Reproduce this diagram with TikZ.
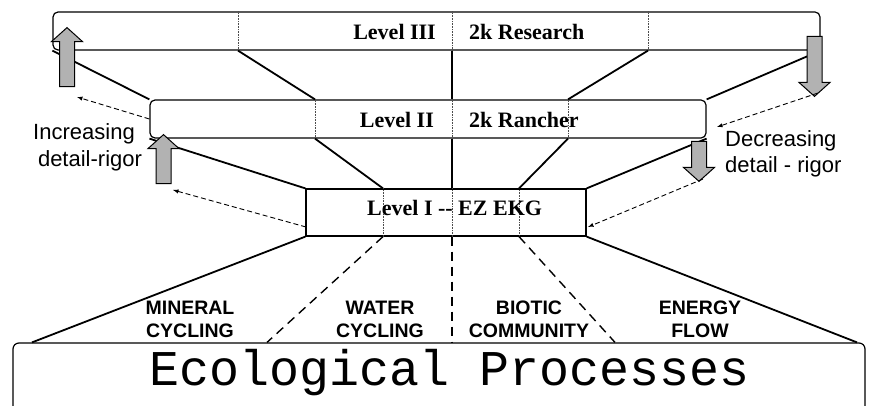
\documentclass[tikz,border=0pt]{standalone}
\usepackage{fontspec}
\setmainfont{Liberation Serif}
\setsansfont{Liberation Sans}
\setmonofont{Liberation Mono}
\usetikzlibrary{shapes.arrows}

\begin{document}
\begin{tikzpicture}[x=1pt,y=-1pt,
    nivel/.style={draw, line width=1.2pt, fill=white, inner sep=0pt},
    divisor/.style={draw=gray!60!black, densely dotted, line width=0.6pt},
    enlace/.style={line width=1.8pt},
    enlacedash/.style={line width=1.4pt, dash pattern=on 9pt off 6pt},
    flechon/.style={single arrow, draw, line width=1pt, fill=gray!60, minimum width=30pt,
        single arrow head extend=8pt, single arrow tip angle=96, inner xsep=0pt, inner ysep=7pt},
    retro/.style={dash pattern=on 5pt off 3pt, line width=0.9pt, -latex},
    titulo/.style={font=\bfseries\fontsize{22}{22}\selectfont, inner sep=0pt},
    proceso/.style={font=\sffamily\bfseries\fontsize{19.5}{23}\selectfont, align=center, inner sep=0pt},
    nota/.style={font=\sffamily\fontsize{22}{27}\selectfont, inner sep=0pt}]

    % Marco
    \useasboundingbox (0,0) rectangle (872,406);

    % Posiciones de las divisiones
    \coordinate (dA) at (238,0);  \coordinate (dB) at (648,0);   % nivel III
    \coordinate (dC) at (315,0);  \coordinate (dD) at (568,0);   % nivel II
    \coordinate (dE) at (383,0);  \coordinate (dF) at (519,0);   % nivel I
    \coordinate (dM) at (452,0);                                 % eje central
    \coordinate (bA) at (32,0);   \coordinate (bB) at (267,0);   % base
    \coordinate (bC) at (615,0);  \coordinate (bD) at (857,0);

    % Niveles
    \node[nivel, rounded corners=5pt, minimum width=767pt, minimum height=38pt] (lvlIII) at (436.5,31) {};
    \node[nivel, rounded corners=5pt, minimum width=556pt, minimum height=38pt] (lvlII) at (428,119) {};
    \node[nivel, minimum width=280pt, minimum height=47pt] (lvlI) at (446,212.5) {};
    \node[nivel, rounded corners=6pt, minimum width=852pt, minimum height=120pt] (procesos) at (439,403) {};

    % Divisiones punteadas
    \foreach \n/\d in {lvlIII/dA, lvlIII/dM, lvlIII/dB, lvlII/dC, lvlII/dM, lvlII/dD, lvlI/dE, lvlI/dM, lvlI/dF}
        \draw[divisor] (\d |- \n.north) -- (\d |- \n.south);

    % Nivel III a nivel II
    \draw[enlace] (lvlIII.south west) -- (lvlII.north west);
    \draw[enlace] (dA |- lvlIII.south) -- (dC |- lvlII.north);
    \draw[enlace] (dM |- lvlIII.south) -- (dM |- lvlII.north);
    \draw[enlace] (dB |- lvlIII.south) -- (dD |- lvlII.north);
    \draw[enlace] (lvlIII.south east) -- (lvlII.north east);

    % Nivel II a nivel I
    \draw[enlace] (lvlII.south west) -- (lvlI.north west);
    \draw[enlace] (dC |- lvlII.south) -- (dE |- lvlI.north);
    \draw[enlace] (dM |- lvlII.south) -- (dM |- lvlI.north);
    \draw[enlace] (dD |- lvlII.south) -- (dF |- lvlI.north);
    \draw[enlace] (lvlII.south east) -- (lvlI.north east);

    % Nivel I a procesos
    \draw[enlace] (lvlI.south west) -- (bA |- procesos.north);
    \draw[enlacedash] (dE |- lvlI.south) -- (bB |- procesos.north);
    \draw[enlacedash] (dM |- lvlI.south) -- (dM |- procesos.north);
    \draw[enlacedash] (dF |- lvlI.south) -- (bC |- procesos.north);
    \draw[enlace] (lvlI.south east) -- (bD |- procesos.north);

    % Flechas grises
    \node[flechon, rotate=90, minimum height=59pt] (subeIII) at (67,60.5) {};
    \node[flechon, rotate=90, minimum height=49pt] (subeII) at (163.5,162.5) {};
    \node[flechon, rotate=-90, minimum height=60pt] (bajaIII) at (814.5,63) {};
    \node[flechon, rotate=-90, minimum height=40pt] (bajaII) at (699,158) {};

    % Flechas de retorno
    \coordinate (fA) at (77,97);
    \coordinate (pB) at (306,227);  \coordinate (fB) at (173,190);
    \coordinate (pC) at (818,93);   \coordinate (fC) at (717,127);
    \coordinate (pD) at (703,179);  \coordinate (fD) at (588,227);
    \draw[retro] (lvlII.west) -- (fA);
    \draw[retro] (pB) -- (fB);
    \draw[retro] (pC) -- (fC);
    \draw[retro] (pD) -- (fD);

    % Textos de los niveles
    \node[titulo, anchor=base east] (tIII) at (436,40) {Level III};
    \node[titulo, anchor=base west] (rIII) at (469,40) {2k Research};
    \node[titulo, anchor=base east] (tII) at (434,128) {Level II};
    \node[titulo, anchor=base west] (rII) at (469,128) {2k Rancher};
    \node[titulo, anchor=base west] (tI) at (367,215) {Level I -{}- EZ EKG};

    % Notas laterales
    \node[nota, anchor=base] (incA) at (84,140) {Increasing};
    \node[nota, anchor=base] (incB) at (90,167) {detail-rigor};
    \node[nota, anchor=base west] (decA) at (725,147) {Decreasing};
    \node[nota, anchor=base west] (decB) at (725,173) {detail - rigor};

    % Procesos
    \node[proceso, anchor=base] (mineral) at (190,337) {MINERAL\\CYCLING};
    \node[proceso, anchor=base] (agua) at (380,337) {WATER\\CYCLING};
    \node[proceso, anchor=base] (biotico) at (529,337) {BIOTIC\\COMMUNITY};
    \node[proceso, anchor=base] (energia) at (700,337) {ENERGY\\FLOW};
    \node[font=\ttfamily\fontsize{50}{50}\selectfont, inner sep=0pt, anchor=base] (eco) at (450,385) {Ecological Processes};

\end{tikzpicture}
\end{document}
